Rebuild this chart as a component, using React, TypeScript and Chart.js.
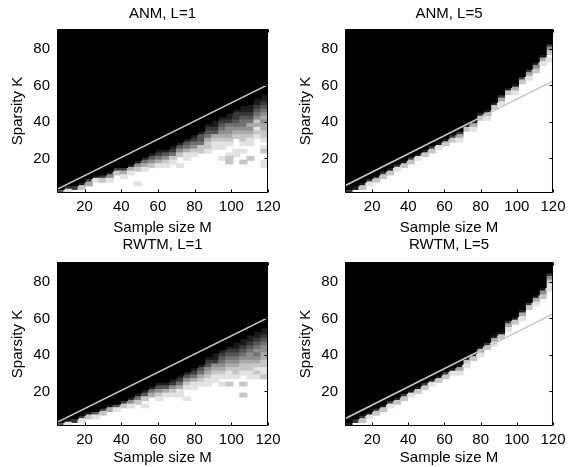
import React, { useEffect, useRef } from "react";
import { Chart, registerables } from "chart.js";

Chart.register(...registerables);

// ---------- data ----------
const M_MIN = 5;
const M_MAX = 120;
const K_MIN = 1;
const K_MAX = 91;
const K_STEP = 2;
const xTicks = [20, 40, 60, 80, 100, 120];
const yTicks = [20, 40, 60, 80];

// boundary line K(M)
const lineM = [5, 120];
const lineK_L1 = [3, 60.5];
const lineK_L5 = [5, 62.5];

// one entry per M column (left -> right):
// [number of white cells from the bottom, darkness of following cells upward (0 white .. 9 black)]
// every cell above these is solid black
const anmL1Cols: [number, string][] = [
  [0, "6"], [0, "17"], [1, "7"], [1, "28"], [2, "37"], [3, "18"], [3, "27"], [3, "148"],
  [5, "27"], [4, "137"], [5, "138"], [2, "1000248"], [6, "1358"], [7, "2468"], [7, "13578"],
  [7, "12468"], [8, "12578"], [7, "1002468"], [9, "113568"], [10, "124578"], [11, "225668"],
  [11, "12235678"], [12, "11236788"], [9, "100112345678"], [8, "22100123445788"],
  [9, "01100023456778"], [8, "2001012234556788"], [9, "2000112343567889"],
  [13, "0012132456788"], [7, "11002101223343456788"],
];
const anmL5Cols: [number, string][] = [
  [0, "7"], [1, "8"], [1, "28"], [2, "17"], [3, "28"], [4, "27"], [5, "28"], [6, "17"],
  [7, "28"], [8, "27"], [9, "18"], [10, "28"], [11, "27"], [12, "18"], [13, "28"],
  [14, "27"], [14, "137"], [17, "28"], [17, "138"], [20, "27"], [20, "138"], [23, "28"],
  [24, "137"], [27, "28"], [27, "138"], [30, "27"], [31, "137"], [33, "248"], [35, "138"],
  [36, "10247"],
];
const rwtmL1Cols: [number, string][] = [
  [0, "6"], [0, "18"], [1, "7"], [1, "17"], [2, "28"], [2, "16"], [3, "27"], [4, "38"],
  [4, "16"], [5, "27"], [5, "148"], [6, "258"], [5, "10268"], [8, "358"], [7, "12468"],
  [8, "1368"], [8, "12478"], [8, "113578"], [7, "10012468"], [10, "113578"], [11, "123568"],
  [11, "11234678"], [12, "11234788"], [11, "1012345678"], [11, "20112345678"],
  [12, "01223456788"], [8, "2002001223456788"], [13, "112234456788"], [13, "1212345456788"],
  [13, "21122334456788"],
];
const rwtmL5Cols: [number, string][] = [
  [0, "8"], [1, "7"], [1, "27"], [2, "18"], [3, "27"], [4, "28"], [5, "17"], [6, "28"],
  [7, "27"], [8, "18"], [9, "28"], [10, "27"], [11, "18"], [12, "28"], [13, "27"],
  [14, "18"], [14, "138"], [16, "128"], [18, "27"], [19, "138"], [21, "27"], [22, "138"],
  [24, "28"], [26, "137"], [28, "28"], [29, "138"], [32, "27"], [33, "138"], [35, "248"],
  [37, "11247"],
];

// ---------- layout ----------
const W = 570;
const H = 467;
const FONT_SIZE = 15;
const LH = FONT_SIZE * 1.2;
const FONT_FAMILY = "'Liberation Sans', Arial, Helvetica, sans-serif";
const Y_AXIS_W = 48;

type Panel = {
  title: string;
  cols: [number, string][];
  lineK: number[];
  rect: [number, number, number, number]; // left, top, right, bottom of plot area
  titleCenter: number;
  xTitleOffset: number;
};

const panels: Panel[] = [
  { title: "ANM, L=1", cols: anmL1Cols, lineK: lineK_L1, rect: [57, 29, 268, 193], titleCenter: 13.5, xTitleOffset: 34.5 },
  { title: "ANM, L=5", cols: anmL5Cols, lineK: lineK_L5, rect: [345, 29, 557, 193], titleCenter: 13.5, xTitleOffset: 34.5 },
  { title: "RWTM, L=1", cols: rwtmL1Cols, lineK: lineK_L1, rect: [57, 262, 268, 426], titleCenter: 245, xTitleOffset: 32 },
  { title: "RWTM, L=5", cols: rwtmL5Cols, lineK: lineK_L5, rect: [345, 262, 557, 426], titleCenter: 245, xTitleOffset: 32 },
];

function gray(d: number) {
  const g = Math.round(255 * (1 - d / 9));
  return `rgb(${g},${g},${g})`;
}

const framePlugin = {
  id: "frame",
  afterDatasetsDraw(chart: any) {
    const { ctx, chartArea: a, scales } = chart;
    const x = scales.x;
    const y = scales.y;
    ctx.save();
    ctx.strokeStyle = "#000";
    ctx.lineWidth = 1;
    const l = a.left + 0.5, r = a.right - 0.5, t = a.top + 0.5, b = a.bottom - 0.5;
    ctx.beginPath();
    ctx.moveTo(l, t); ctx.lineTo(r, t); ctx.lineTo(r, b); ctx.lineTo(l, b); ctx.closePath();
    for (const v of xTicks) {
      const px = Math.round(x.getPixelForValue(v)) + 0.5;
      ctx.moveTo(px, b); ctx.lineTo(px, b - 3);
      ctx.moveTo(px, t); ctx.lineTo(px, t + 3);
    }
    for (const v of yTicks) {
      const py = Math.round(y.getPixelForValue(v)) + 0.5;
      ctx.moveTo(l, py); ctx.lineTo(l + 3, py);
      ctx.moveTo(r, py); ctx.lineTo(r - 3, py);
    }
    ctx.stroke();
    ctx.restore();
  },
};

function makeConfig(p: Panel): any {
  const [L, T, R, B] = p.rect;
  const n = p.cols.length;
  const centers = p.cols.map((_, i) => M_MIN + ((i + 0.5) * (M_MAX - M_MIN)) / n);
  const colStr = p.cols.map(([w, f]) => "0".repeat(w) + f);
  const datasets: any[] = [];
  const barCommon = {
    type: "bar",
    order: 2,
    grouped: false,
    barPercentage: 1,
    categoryPercentage: 1,
    borderWidth: 0,
    inflateAmount: 0.6,
  };
  datasets.push({
    ...barCommon,
    data: colStr.map((s, i) => ({ x: centers[i], y: [K_MIN + K_STEP * s.length, K_MAX] })),
    backgroundColor: "#000",
  });
  const maxLen = Math.max(...colStr.map((s) => s.length));
  for (let j = 0; j < maxLen; j++) {
    const data: any[] = [];
    const colors: string[] = [];
    colStr.forEach((s, i) => {
      if (j < s.length) {
        const d = Number(s[j]);
        if (d > 0) {
          data.push({ x: centers[i], y: [K_MIN + K_STEP * j, K_MIN + K_STEP * (j + 1)] });
          colors.push(gray(d));
        }
      }
    });
    if (data.length) datasets.push({ ...barCommon, data, backgroundColor: colors });
  }
  datasets.push({
    type: "line",
    order: 0,
    data: lineM.map((m, i) => ({ x: m, y: p.lineK[i] })),
    borderColor: "#c8c8c8",
    borderWidth: 1.5,
    pointRadius: 0,
    fill: false,
  });

  const font = { family: FONT_FAMILY, size: FONT_SIZE, weight: "normal" as const };
  const xH = p.xTitleOffset + LH / 2;
  const titleTop = p.titleCenter - LH / 2;

  return {
    type: "bar",
    data: { datasets },
    plugins: [framePlugin],
    options: {
      responsive: false,
      maintainAspectRatio: false,
      devicePixelRatio: 1,
      animation: false,
      events: [],
      layout: {
        padding: { left: L - Y_AXIS_W, top: titleTop, right: W - R, bottom: H - B - xH },
      },
      plugins: {
        legend: { display: false },
        tooltip: { enabled: false },
        title: {
          display: true,
          text: p.title,
          fullSize: false,
          color: "#000",
          font,
          padding: { top: 0, bottom: T - titleTop - LH },
        },
      },
      scales: {
        x: {
          type: "linear",
          min: M_MIN,
          max: M_MAX,
          offset: false,
          grid: { display: false, drawTicks: false },
          border: { display: false },
          ticks: { padding: 4.5, maxRotation: 0, autoSkip: false, color: "#000", font },
          afterBuildTicks: (s: any) => {
            s.ticks = xTicks.map((v) => ({ value: v }));
          },
          afterFit: (s: any) => {
            s.height = xH;
          },
          title: { display: true, text: "Sample size M", color: "#000", font, padding: 0 },
        },
        y: {
          type: "linear",
          min: K_MIN,
          max: K_MAX,
          grid: { display: false, drawTicks: false },
          border: { display: false },
          ticks: { padding: 7, color: "#000", font },
          afterBuildTicks: (s: any) => {
            s.ticks = yTicks.map((v) => ({ value: v }));
          },
          afterFit: (s: any) => {
            s.width = Y_AXIS_W;
          },
          title: { display: true, text: "Sparsity K", color: "#000", font, padding: 0 },
        },
      },
    },
  };
}

function PanelChart({ panel }: { panel: Panel }) {
  const ref = useRef<HTMLCanvasElement | null>(null);
  useEffect(() => {
    if (!ref.current) return;
    const chart = new Chart(ref.current, makeConfig(panel));
    return () => chart.destroy();
  }, [panel]);
  return (
    <canvas
      ref={ref}
      width={W}
      height={H}
      style={{ position: "absolute", left: 0, top: 0, width: W, height: H }}
    />
  );
}

export default function App() {
  return (
    <div style={{ position: "absolute", left: 0, top: 0, width: W, height: H, background: "#fff", overflow: "hidden" }}>
      {panels.map((p, i) => (
        <PanelChart key={i} panel={p} />
      ))}
    </div>
  );
}
